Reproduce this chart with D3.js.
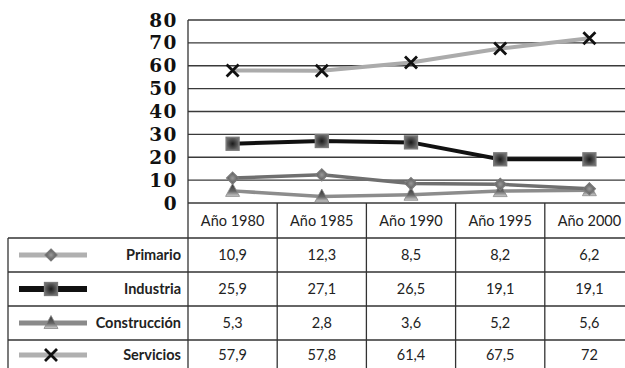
<!DOCTYPE html>
<html>
<head>
<meta charset="utf-8">
<script src="https://cdn.jsdelivr.net/npm/d3@7"></script>
<style>
  html, body { margin: 0; padding: 0; background: #fff; }
  svg { display: block; }
</style>
</head>
<body>
<svg id="chart" width="625" height="368"></svg>
<script>
// Employment share by sector (%), 1980-2000
const years = ["Año 1980", "Año 1985", "Año 1990", "Año 1995", "Año 2000"];
const primario = [10.9, 12.3, 8.5, 8.2, 6.2];
const industria = [25.9, 27.1, 26.5, 19.1, 19.1];
const construccion = [5.3, 2.8, 3.6, 5.2, 5.6];
const servicios = [57.9, 57.8, 61.4, 67.5, 72];
const yTicks = [0, 10, 20, 30, 40, 50, 60, 70, 80];
const valueLabels = {
  primario: ["10,9", "12,3", "8,5", "8,2", "6,2"],
  industria: ["25,9", "27,1", "26,5", "19,1", "19,1"],
  construccion: ["5,3", "2,8", "3,6", "5,2", "5,6"],
  servicios: ["57,9", "57,8", "61,4", "67,5", "72"]
};

const series = [
  { key: "primario", name: "Primario", values: primario, line: "#6f6f6f", legendLine: "#b0b0b0", width: 3.5, marker: "diamond" },
  { key: "industria", name: "Industria", values: industria, line: "#111", legendLine: "#111", width: 4, marker: "square" },
  { key: "construccion", name: "Construcción", values: construccion, line: "#8c8c8c", legendLine: "#8a8a8a", width: 3.5, marker: "triangle" },
  { key: "servicios", name: "Servicios", values: servicios, line: "#ababab", legendLine: "#b0b0b0", width: 4, marker: "cross" }
];

const svg = d3.select("#chart");
const W = 625;
const plotLeft = 188, plotTop = 20, plotBottom = 203;
const bandW = 89.2;
const tableLeft = 8;
const rowTop = 238, rowH = 34;

const x = d3.scaleBand().domain(years).range([plotLeft, plotLeft + bandW * years.length]);
const y = d3.scaleLinear().domain([0, 80]).range([plotBottom, plotTop]);

// gradients for markers
const defs = svg.append("defs");
const sq = defs.append("radialGradient").attr("id", "gSquare");
sq.append("stop").attr("offset", "0%").attr("stop-color", "#1a1a1a");
sq.append("stop").attr("offset", "100%").attr("stop-color", "#6a6a6a");
const tri = defs.append("linearGradient").attr("id", "gTri").attr("x1", 0).attr("y1", 0).attr("x2", 0).attr("y2", 1);
tri.append("stop").attr("offset", "0%").attr("stop-color", "#333");
tri.append("stop").attr("offset", "60%").attr("stop-color", "#666");
tri.append("stop").attr("offset", "100%").attr("stop-color", "#d0d0d0");
const dia = defs.append("radialGradient").attr("id", "gDia");
dia.append("stop").attr("offset", "0%").attr("stop-color", "#9a9a9a");
dia.append("stop").attr("offset", "100%").attr("stop-color", "#555");

// gridlines
svg.append("g").selectAll("line").data(yTicks).join("line")
  .attr("x1", plotLeft).attr("x2", W)
  .attr("y1", d => y(d)).attr("y2", d => y(d))
  .attr("stroke", "#3a3a3a").attr("stroke-width", 1.4);

// y-axis labels
svg.append("g").selectAll("text").data(yTicks).join("text")
  .attr("x", 178).attr("y", d => y(d) + 6.5)
  .attr("text-anchor", "end")
  .attr("font-family", "'DejaVu Serif', serif")
  .attr("font-weight", "bold")
  .attr("font-size", 18.5)
  .attr("letter-spacing", 1.5)
  .attr("fill", "#111")
  .text(d => d);

// table grid
const tg = svg.append("g").attr("stroke", "#333").attr("stroke-width", 1.3);
const colEdges = years.map(d => x(d)).concat([x(years[years.length - 1]) + bandW]);
colEdges.forEach(cx => {
  if (cx <= W) tg.append("line").attr("x1", cx).attr("x2", cx)
    .attr("y1", cx === plotLeft ? plotTop : plotBottom).attr("y2", 368);
});
tg.append("line").attr("x1", tableLeft).attr("x2", tableLeft).attr("y1", rowTop).attr("y2", 368);
for (let i = 0; i < 4; i++) {
  tg.append("line").attr("x1", tableLeft).attr("x2", W).attr("y1", rowTop + i * rowH).attr("y2", rowTop + i * rowH);
}

const sans = "Lato, 'Open Sans', sans-serif";

// header labels
svg.append("g").selectAll("text").data(years).join("text")
  .attr("x", d => x(d) + bandW / 2).attr("y", 226)
  .attr("text-anchor", "middle").attr("font-family", sans).attr("font-size", 14.5).attr("fill", "#222")
  .text(d => d);

function drawMarker(g, type, cx, cy) {
  if (type === "diamond") {
    g.append("path").attr("d", `M${cx},${cy - 6}L${cx + 6},${cy}L${cx},${cy + 6}L${cx - 6},${cy}Z`)
      .attr("fill", "url(#gDia)").attr("stroke", "#7a7a7a").attr("stroke-width", 1.2);
  } else if (type === "square") {
    g.append("rect").attr("x", cx - 6.5).attr("y", cy - 6.5).attr("width", 13).attr("height", 13)
      .attr("fill", "url(#gSquare)").attr("stroke", "#7a7a7a").attr("stroke-width", 1.3);
  } else if (type === "triangle") {
    g.append("path").attr("d", `M${cx},${cy - 7.5}L${cx + 7},${cy + 5.5}L${cx - 7},${cy + 5.5}Z`)
      .attr("fill", "url(#gTri)").attr("stroke", "#888").attr("stroke-width", 0.8);
  } else {
    g.append("path").attr("d", `M${cx - 6},${cy - 6}L${cx + 6},${cy + 6}M${cx - 6},${cy + 6}L${cx + 6},${cy - 6}`)
      .attr("stroke", "#111").attr("stroke-width", 2.8).attr("fill", "none");
  }
}

// lines, drawn bottom-up so that Servicios sits on top
const line = d3.line().x((d, i) => x(years[i]) + bandW / 2).y(d => y(d));
const drawOrder = ["construccion", "primario", "industria", "servicios"];
drawOrder.forEach(k => {
  const s = series.find(d => d.key === k);
  const g = svg.append("g");
  g.append("path").datum(s.values).attr("d", line)
    .attr("fill", "none").attr("stroke", s.line).attr("stroke-width", s.width).attr("stroke-linejoin", "round");
  s.values.forEach((v, i) => drawMarker(g, s.marker, x(years[i]) + bandW / 2, y(v)));
});

// table rows: legend key, name, values
series.forEach((s, r) => {
  const cy = rowTop + r * rowH + rowH / 2 + (r === 3 ? -2 : 0);
  const g = svg.append("g");
  g.append("line").attr("x1", 19).attr("x2", 87).attr("y1", cy).attr("y2", cy)
    .attr("stroke", s.legendLine).attr("stroke-width", s.key === "industria" ? 6 : 5);
  drawMarker(g, s.marker, 51, cy);
  g.append("text").attr("x", 181).attr("y", cy + 5)
    .attr("text-anchor", "end").attr("font-family", sans).attr("font-weight", "bold")
    .attr("font-size", 14.5).attr("fill", "#222").text(s.name);
  g.selectAll("text.v").data(valueLabels[s.key]).join("text").attr("class", "v")
    .attr("x", (d, i) => x(years[i]) + bandW / 2).attr("y", cy + 5)
    .attr("text-anchor", "middle").attr("font-family", sans).attr("font-size", 14.5).attr("fill", "#222")
    .text(d => d);
});
</script>
</body>
</html>
